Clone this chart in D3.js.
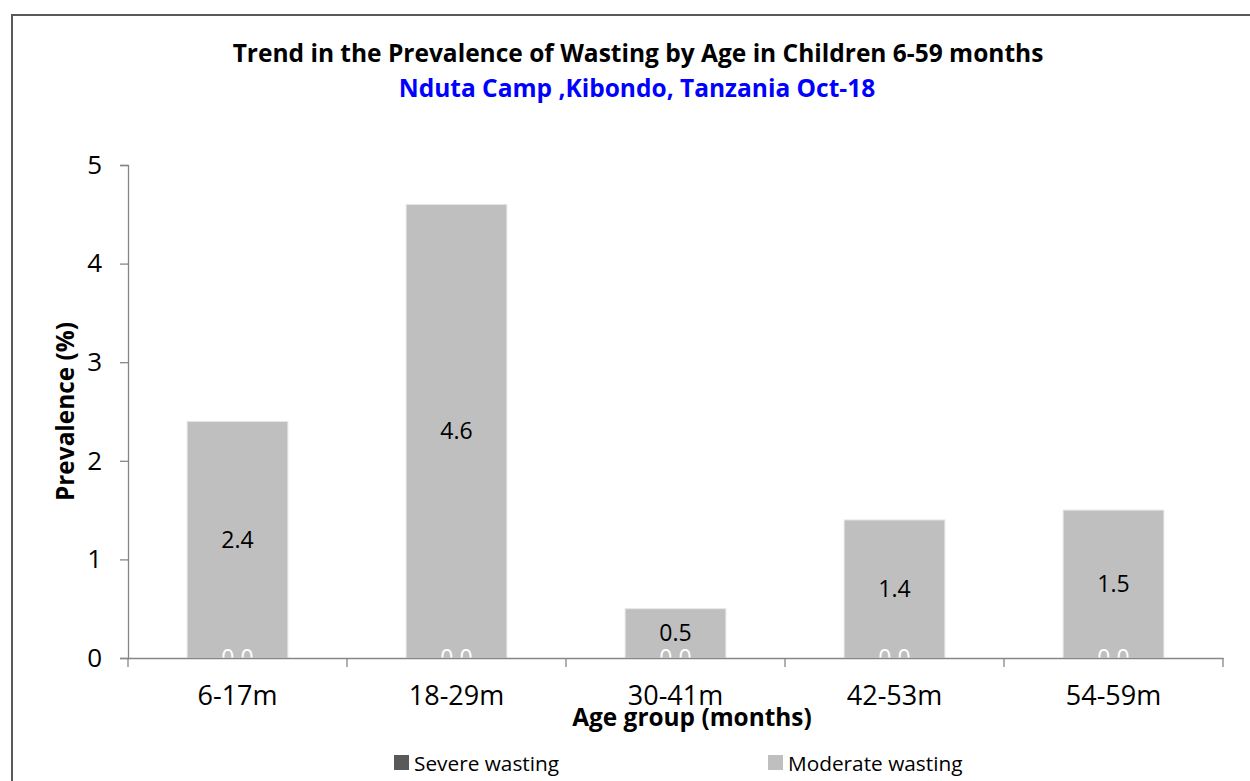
<!DOCTYPE html>
<html>
<head>
<meta charset="utf-8">
<script src="https://cdn.jsdelivr.net/npm/d3@7"></script>
<style>
	body { margin: 0; background: #fff; }
	svg { display: block; font-family: 'Open Sans', sans-serif; }
</style>
</head>
<body>
<svg id="chart" width="1250" height="781"></svg>
<script>
const categories = ['6-17m', '18-29m', '30-41m', '42-53m', '54-59m'];
const severe = [0.0, 0.0, 0.0, 0.0, 0.0];
const moderate = [2.4, 4.6, 0.5, 1.4, 1.5];
const yTicks = [0, 1, 2, 3, 4, 5];
const seriesNames = ['Severe wasting', 'Moderate wasting'];
const seriesColors = ['#595959', '#bfbfbf'];

const FONT = "'Open Sans', sans-serif";
const $svg = d3.select('#chart');
const margin = { top: 165, right: 27, bottom: 123, left: 128 };
const width = 1250;
const height = 781;

// outer chart frame (only top and left edges are visible)
$svg.append('path')
	.attr('d', `M12,${height} L12,15 L${width},15`)
	.attr('fill', 'none')
	.attr('stroke', '#595959')
	.attr('stroke-width', 2);

$svg.append('text')
	.attr('x', 638).attr('y', 62)
	.attr('text-anchor', 'middle')
	.attr('font-size', 24.5).attr('font-weight', 700)
	.attr('fill', '#000')
	.text('Trend in the Prevalence of Wasting by Age in Children 6-59 months');

$svg.append('text')
	.attr('x', 637).attr('y', 97)
	.attr('text-anchor', 'middle')
	.attr('font-size', 24.5).attr('font-weight', 700)
	.attr('fill', '#0000ff')
	.text('Nduta Camp ,Kibondo, Tanzania Oct-18');

const x = d3.scaleBand()
	.domain(categories)
	.range([margin.left, width - margin.right])
	.paddingInner(0.54)
	.paddingOuter(0.27);

const y = d3.scaleLinear()
	.domain([0, 5])
	.range([height - margin.bottom, margin.top]);

const rows = categories.map((c, i) => ({ cat: c, severe: severe[i], moderate: moderate[i] }));
const stacked = d3.stack().keys(['severe', 'moderate'])(rows);

const $bars = $svg.append('g');
stacked.forEach((layer, li) => {
	$bars.selectAll(null)
		.data(layer)
		.enter()
		.append('rect')
		.attr('x', d => x(d.data.cat))
		.attr('y', d => y(d[1]))
		.attr('width', x.bandwidth())
		.attr('height', d => y(d[0]) - y(d[1]))
		.attr('fill', seriesColors[li])
		.attr('stroke', li === 1 ? '#e6e6e6' : 'none')
		.attr('stroke-width', 1);
});

// moderate labels centred in bar
$svg.append('g').selectAll('text')
	.data(stacked[1])
	.enter()
	.append('text')
	.attr('x', d => x(d.data.cat) + x.bandwidth() / 2)
	.attr('y', d => (y(d[0]) + y(d[1])) / 2 + 8)
	.attr('text-anchor', 'middle')
	.attr('font-size', 23)
	.attr('fill', '#000')
	.text(d => d3.format('.1f')(d.data.moderate));

// severe labels (white, sitting on the baseline)
$svg.append('g').selectAll('text')
	.data(stacked[0])
	.enter()
	.append('text')
	.attr('x', d => x(d.data.cat) + x.bandwidth() / 2)
	.attr('y', d => (y(d[0]) + y(d[1])) / 2 + 8)
	.attr('text-anchor', 'middle')
	.attr('font-size', 23)
	.attr('fill', '#fff')
	.text(d => d3.format('.1f')(d.data.severe));

// y axis
const yAxis = $svg.append('g')
	.attr('transform', `translate(${margin.left},0)`)
	.call(d3.axisLeft(y).tickValues(yTicks).tickSize(8).tickPadding(18).tickFormat(d3.format('d')));
yAxis.select('.domain').attr('stroke', '#868686').attr('stroke-width', 1.3);
yAxis.selectAll('.tick line').attr('stroke', '#868686').attr('stroke-width', 1.3);
yAxis.selectAll('.tick text').attr('font-size', 26).attr('fill', '#000').attr('font-family', FONT);

// x axis
const xAxis = $svg.append('g')
	.attr('transform', `translate(0,${y(0)})`)
	.call(d3.axisBottom(x).tickSize(0).tickPadding(28));
xAxis.select('.domain').attr('stroke', '#868686').attr('stroke-width', 1.3);
xAxis.selectAll('.tick text').attr('font-size', 27).attr('fill', '#000').attr('font-family', FONT);

const step = x.step();
const bounds = d3.range(categories.length + 1).map(i => margin.left + i * step);
xAxis.selectAll('.bound')
	.data(bounds)
	.enter()
	.append('line')
	.attr('x1', d => d).attr('x2', d => d)
	.attr('y1', 0).attr('y2', 9)
	.attr('stroke', '#868686').attr('stroke-width', 1.3);

// axis titles
$svg.append('text')
	.attr('transform', `translate(74,${(y(0) + y(5)) / 2}) rotate(-90)`)
	.attr('text-anchor', 'middle')
	.attr('font-size', 24.4).attr('font-weight', 700)
	.text('Prevalence (%)');

$svg.append('text')
	.attr('x', 692).attr('y', 726)
	.attr('text-anchor', 'middle')
	.attr('font-size', 24.4).attr('font-weight', 700)
	.text('Age group (months)');

// legend
const legendX = [394, 768];
const $legend = $svg.append('g');
seriesNames.forEach((name, i) => {
	$legend.append('rect')
		.attr('x', legendX[i]).attr('y', 755)
		.attr('width', 15).attr('height', 15)
		.attr('fill', seriesColors[i]);
	$legend.append('text')
		.attr('x', legendX[i] + 20).attr('y', 771)
		.attr('font-size', 20.8)
		.attr('fill', '#000')
		.text(name);
});
</script>
</body>
</html>
